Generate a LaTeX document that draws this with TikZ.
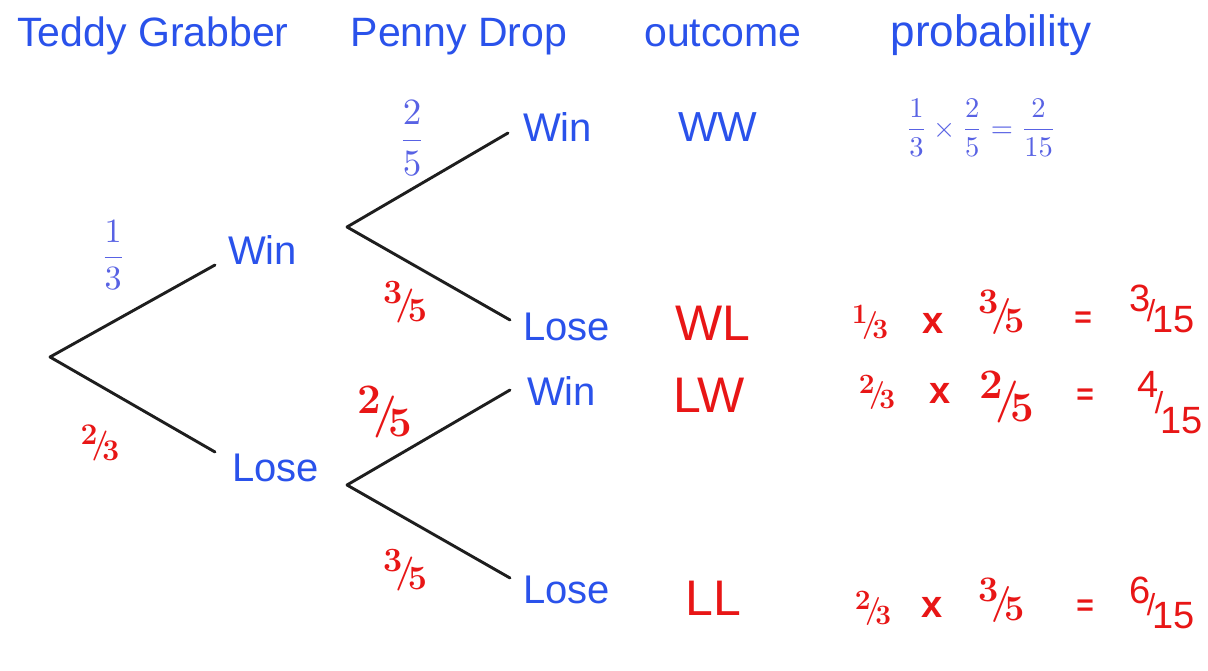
\documentclass[tikz,border=0pt]{standalone}
\usepackage{fontspec}
\usepackage{amsmath}
\usepackage{graphicx}
\newfontfamily\wordfont{Liberation Sans}
\definecolor{tblue}{RGB}{42,82,235}
\definecolor{fblue}{RGB}{88,98,228}
\definecolor{tred}{RGB}{232,22,22}
\definecolor{branch}{RGB}{30,30,30}
% slashed fraction such as 3/5 written by hand
\newcommand\slf[2]{\raisebox{0.32em}{#1}\kern-0.2em/\kern-0.2em\raisebox{-0.22em}{#2}}
% result over fifteen: numerator lifted by #2, slash lifted by #3
\newcommand\res[3]{\raisebox{#2}{#1}\kern-0.1em\raisebox{#3}{\scalebox{0.8}{/}}\kern-0.08em 15}
\tikzset{
  head/.style={text=tblue, inner sep=0, anchor=base, font=\wordfont\fontsize{41}{44}\selectfont},
  word/.style={text=tblue, inner sep=0, anchor=base west, font=\wordfont\fontsize{40}{44}\selectfont},
  outb/.style={text=tblue, inner sep=0, anchor=base west, font=\wordfont\fontsize{42}{46}\selectfont},
  outr/.style={text=tred, inner sep=0, anchor=base west, font=\wordfont\fontsize{50}{54}\selectfont},
  bfrac/.style={text=fblue, inner sep=0},
  rfrac/.style={text=tred, inner sep=0, font=\bfseries\fontsize{#1}{#1}\selectfont},
  rsym/.style={text=tred, inner sep=0, font=\wordfont\bfseries\fontsize{#1}{#1}\selectfont},
  rres/.style={text=tred, inner sep=0, font=\wordfont\fontsize{38}{38}\selectfont},
  limb/.style={draw=branch, line width=2.9pt, line cap=round},
}
\begin{document}
\begin{tikzpicture}[x=1pt,y=-1pt]
\useasboundingbox (0,0) rectangle (1208,671);
\fill[white] (0,0) rectangle (1208,671);

% column headings
\node[head] (h1) at (153,47) {Teddy Grabber};
\node[head] (h2) at (459,47) {Penny Drop};
\node[head] (h3) at (723,47) {outcome};
\node[head, font=\wordfont\fontsize{44}{46}\selectfont] (h4) at (991,47) {probability};

% branch points
\coordinate (root) at (50,357);
\coordinate (a1) at (215,265);
\coordinate (a2) at (215,452);
\coordinate (b1) at (347,227);
\coordinate (b2) at (347,485);
\coordinate (c1) at (508,133);
\coordinate (c2) at (510,320);
\coordinate (c3) at (510,390);
\coordinate (c4) at (510,578);

\draw[limb] (root) -- (a1);
\draw[limb] (root) -- (a2);
\draw[limb] (b1) -- (c1);
\draw[limb] (b1) -- (c2);
\draw[limb] (b2) -- (c3);
\draw[limb] (b2) -- (c4);

% first game
\node[word] (w1) at (228,265) {Win};
\node[word] (l1) at (232,481) {Lose};
% second game
\node[word] (ww) at (523,142) {Win};
\node[word] (wl) at (523,340) {Lose};
\node[word] (lw) at (527,405) {Win};
\node[word] (ll) at (523,603) {Lose};

% branch probabilities
\node[bfrac] (p1) at (113,255) {\scalebox{3.4}{$\dfrac{1}{3}$}};
\node[rfrac=30] (p2) at (100,443) {\slf{2}{3}};
\node[bfrac] (p3) at (412,138) {\scalebox{3.7}{$\dfrac{2}{5}$}};
\node[rfrac=34] (p4) at (405,302) {\slf{3}{5}};
\node[rfrac=42] (p5) at (385,412) {\slf{2}{5}};
\node[rfrac=34] (p6) at (405,570) {\slf{3}{5}};

% outcomes
\node[outb] (o1) at (678,142) {WW};
\node[outr] (o2) at (675,340) {WL};
\node[outr] (o3) at (673,412) {LW};
\node[outr] (o4) at (685,615) {LL};

% probabilities of each outcome
\node[bfrac] (q1) at (981,128) {\scalebox{2.85}{$\dfrac{1}{3}\times\dfrac{2}{5}=\dfrac{2}{15}$}};

\node[rfrac=28] (q2a) at (870,322) {\slf{1}{3}};
\node[rsym=38] (q2b) at (933,323) {x};
\node[rfrac=36] (q2c) at (1002,312) {\slf{3}{5}};
\node[rsym=30] (q2d) at (1083,320) {=};
\node[rres] (q2e) at (1162,309) {\res{3}{0.55em}{0.3em}};

\node[rfrac=28] (q3a) at (877,392) {\slf{2}{3}};
\node[rsym=38] (q3b) at (940,393) {x};
\node[rfrac=42] (q3c) at (1007,397) {\slf{2}{5}};
\node[rsym=30] (q3d) at (1085,397) {=};
\node[rres] (q3e) at (1170,403) {\res{4}{0.95em}{0.55em}};

\node[rfrac=28] (q4a) at (873,608) {\slf{2}{3}};
\node[rsym=38] (q4b) at (932,607) {x};
\node[rfrac=36] (q4c) at (1002,600) {\slf{3}{5}};
\node[rsym=30] (q4d) at (1085,608) {=};
\node[rres] (q4e) at (1162,603) {\res{6}{0.65em}{0.35em}};
\end{tikzpicture}
\end{document}
